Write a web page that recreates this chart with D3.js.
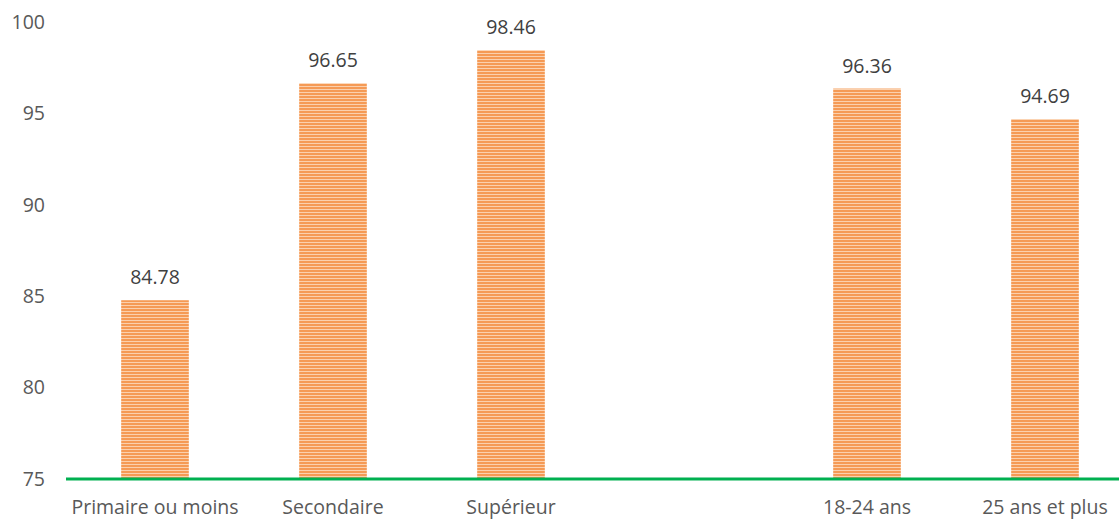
<!DOCTYPE html>
<html>
<head>
<meta charset="utf-8">
<script src="https://cdn.jsdelivr.net/npm/d3@7"></script>
<style>
  html, body { margin: 0; padding: 0; background: #fff; }
  svg { display: block; font-family: "Open Sans", "Noto Sans", sans-serif; }
</style>
</head>
<body>
<svg id="chart" width="1119" height="520"></svg>
<script>
// Categories (the empty slot separates education from age groups)
const categories = ["Primaire ou moins", "Secondaire", "Supérieur", "", "18-24 ans", "25 ans et plus"];
const values = [84.78, 96.65, 98.46, null, 96.36, 94.69];
const yTicks = [75, 80, 85, 90, 95, 100];

const svg = d3.select("#chart");
const margin = { left: 66, top: 22, bottom: 41 };
const H = 520;
const FS = 19.5;

const x = d3.scaleBand()
  .domain(categories)
  .range([margin.left, margin.left + 6 * 178])
  .paddingInner(0.62)
  .paddingOuter(0.31);

const y = d3.scaleLinear()
  .domain([75, 100])
  .range([H - margin.bottom, margin.top]);

// Striped orange fill
const defs = svg.append("defs");
const pat = defs.append("pattern")
  .attr("id", "stripes")
  .attr("patternUnits", "userSpaceOnUse")
  .attr("width", 8).attr("height", 3);
pat.append("rect").attr("width", 8).attr("height", 3).attr("fill", "#f59a55");
pat.append("rect").attr("y", 2).attr("width", 8).attr("height", 1).attr("fill", "#fbd0ad");

// Y axis labels (no axis line)
const yAxis = d3.axisLeft(y).tickValues(yTicks).tickSize(0).tickPadding(0);
const gy = svg.append("g").attr("transform", "translate(45,0)").call(yAxis);
gy.select(".domain").remove();
gy.selectAll("text")
  .attr("font-size", FS)
  .attr("fill", "#595959")
  .attr("font-family", "'Open Sans', sans-serif");

// Bars
const data = categories.map((c, i) => ({ c, v: values[i] })).filter(d => d.v !== null);
svg.append("g").selectAll("rect")
  .data(data).join("rect")
  .attr("x", d => x(d.c))
  .attr("width", x.bandwidth())
  .attr("y", d => y(d.v))
  .attr("height", d => y(75) - y(d.v))
  .attr("fill", "url(#stripes)");

// Value labels
svg.append("g").selectAll("text")
  .data(data).join("text")
  .attr("x", d => x(d.c) + x.bandwidth() / 2)
  .attr("y", d => y(d.v) - 16)
  .attr("text-anchor", "middle")
  .attr("font-size", FS)
  .attr("fill", "#404040")
  .text(d => d.v.toFixed(2));

// X axis: green baseline and category labels
const xAxis = d3.axisBottom(x).tickSize(0).tickPadding(21);
const gx = svg.append("g").attr("transform", `translate(0,${y(75)})`).call(xAxis);
gx.select(".domain").remove();
gx.selectAll("text")
  .attr("font-size", FS)
  .attr("fill", "#595959")
  .attr("font-family", "'Open Sans', sans-serif");

svg.append("line")
  .attr("x1", margin.left).attr("x2", 1119)
  .attr("y1", y(75)).attr("y2", y(75))
  .attr("stroke", "#00b050")
  .attr("stroke-width", 3);
</script>
</body>
</html>
